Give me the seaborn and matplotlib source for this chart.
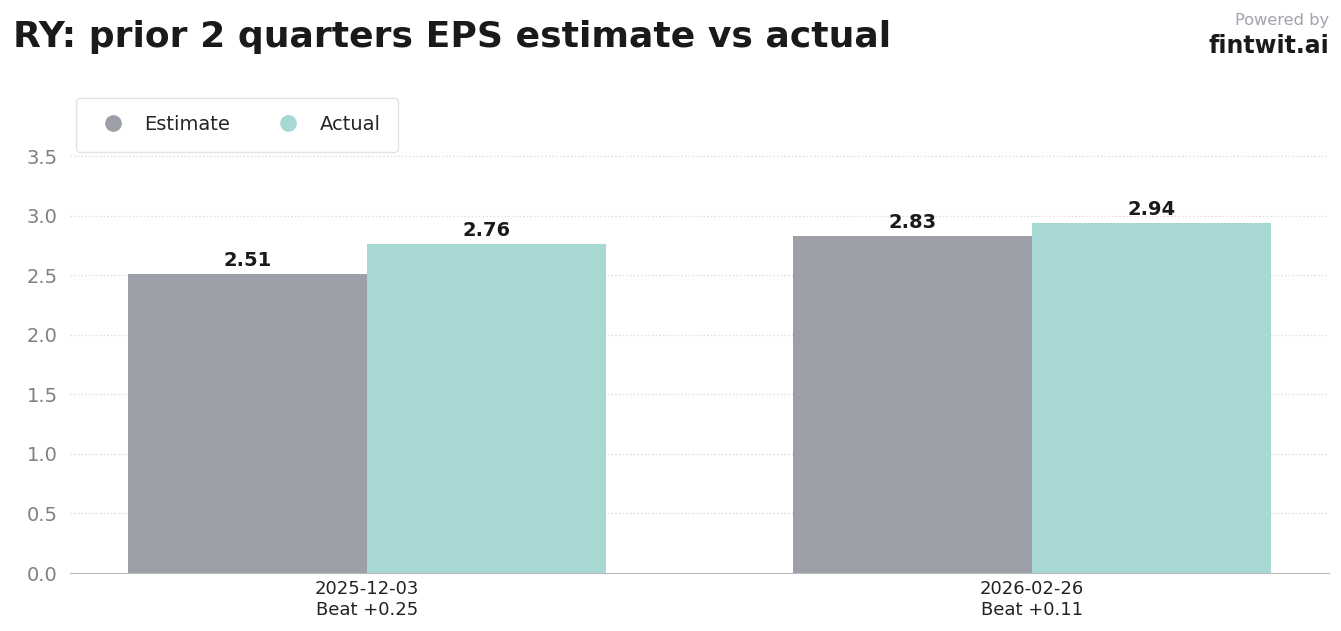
import matplotlib
matplotlib.use("Agg")
import matplotlib.pyplot as plt
import pandas as pd
import seaborn as sns

# data
dates = ["2025-12-03", "2026-02-26"]
surprise = ["Beat +0.25", "Beat +0.11"]
estimate = [2.51, 2.83]
actual = [2.76, 2.94]

labels = [d + "\n" + s for d, s in zip(dates, surprise)]
df = pd.DataFrame({
    "quarter": labels * 2,
    "kind": ["Estimate"] * 2 + ["Actual"] * 2,
    "eps": estimate + actual,
})

sns.set_style("white")
plt.rcParams["font.family"] = ["DejaVu Sans"]

fig = plt.figure(figsize=(13.41, 6.31), dpi=100)
ax = fig.add_axes([0.0522, 0.0919, 0.9389, 0.7496])

colors = {"Estimate": "#9c9fa7", "Actual": "#a8d8d4"}
sns.barplot(data=df, x="quarter", y="eps", hue="kind", palette=colors,
            width=0.72, saturation=1, linewidth=0, ax=ax, legend=False)

for c in ax.containers:
    ax.bar_label(c, fmt="%.2f", padding=3, fontsize=14, fontweight="bold", color="#1a1a1a")

ax.set_ylim(0, 3.97)
ax.set_xlim(-0.447, 1.447)
ax.set_yticks([0, 0.5, 1.0, 1.5, 2.0, 2.5, 3.0, 3.5])
ax.set_xlabel("")
ax.set_ylabel("")
ax.tick_params(axis="y", labelsize=14, labelcolor="#808080", length=0, pad=9)
ax.tick_params(axis="x", labelsize=13, labelcolor="#222222", length=0, pad=5)
ax.yaxis.grid(True, linestyle=":", color="#dddddd", linewidth=1)
ax.set_axisbelow(True)
for s in ["top", "right", "left"]:
    ax.spines[s].set_visible(False)
ax.spines["bottom"].set_color("#bbbbbb")

# legend with round markers
handles = [plt.Line2D([], [], marker="o", linestyle="", markersize=11,
                      color=colors[k]) for k in ["Estimate", "Actual"]]
leg = fig.legend(handles, ["Estimate", "Actual"], ncol=2, fontsize=14,
                 loc="upper left", bbox_to_anchor=(0.0567, 0.845),
                 borderaxespad=0, frameon=True, fancybox=True, borderpad=0.9,
                 handletextpad=0.6, columnspacing=2.0)
leg.get_frame().set_edgecolor("#dddddd")
leg.get_frame().set_linewidth(1)

fig.text(0.0097, 0.942, "RY: prior 2 quarters EPS estimate vs actual",
         fontsize=26, fontweight="bold", color="#1a1a1a", va="center")
fig.text(0.991, 0.968, "Powered by", fontsize=11.7, color="#a0a4aa",
         ha="right", va="center")
fig.text(0.991, 0.927, "fintwit.ai", fontsize=17, fontweight="bold",
         color="#1a1a1a", ha="right", va="center")

fig.savefig("out.png", dpi=100)
